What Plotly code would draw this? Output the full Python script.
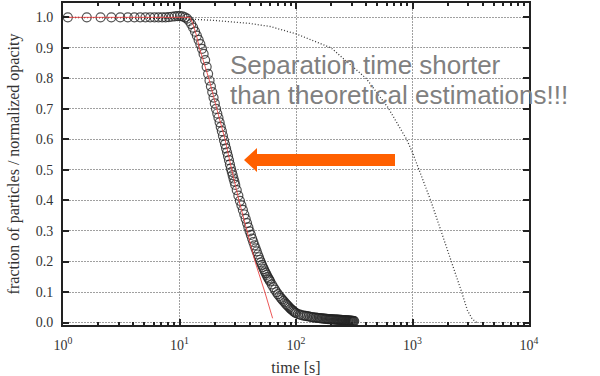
import plotly.graph_objects as go

# ---------------- data ----------------
time_s = [1.1, 1.6, 2.1, 2.6, 3.1, 3.6, 4.1, 4.6, 5.1, 5.6, 6.1, 6.6, 7.1, 7.6, 8.1, 8.6, 9.1, 9.6, 10.1, 10.6,
          11.1, 11.6, 12.1, 12.6, 13.1, 13.6, 14.1, 14.6, 15.1, 15.6, 16.1, 16.6, 17.1, 17.6, 18.1, 18.6, 19.1, 19.6,
          20.1, 20.6, 21.1, 21.6, 22.1, 22.6, 23.1, 23.6, 24.1, 24.6, 25.1, 25.6, 26.1, 26.6, 27.1, 27.6, 28.1, 28.6,
          29.1, 29.6, 30.1,
          31, 32, 33, 34, 35, 36, 37, 38, 39, 40, 41, 42, 43, 44, 45, 46, 47, 48, 49, 50,
          51, 52, 53, 54, 55, 56, 57, 58, 59, 60,
          62, 64, 66, 68, 70, 72, 74, 76, 78, 80, 82, 84, 86, 88, 90, 92, 94, 96, 98, 100,
          104, 108, 112, 116, 120, 124, 128, 132, 136, 140, 144, 148, 152, 156, 160, 164, 168, 172, 176, 180,
          184, 188, 192, 196, 200, 204, 208, 212, 216, 220, 224, 228, 232, 236, 240, 244, 248, 252, 256, 260,
          264, 268, 272, 276, 280, 284, 288, 292, 296, 300, 304, 308, 312, 316]

fraction = [1.0, 1.0, 1.0, 1.0, 1.0, 1.0, 1.0, 1.0, 1.0, 1.0, 1.0, 1.0, 1.0, 1.0, 1.001, 1.002, 1.003, 1.004, 1.004, 1.003,
            1.0, 0.996, 0.988, 0.978, 0.966, 0.953, 0.940, 0.926, 0.912, 0.897, 0.880, 0.860, 0.838, 0.815, 0.793, 0.774,
            0.755, 0.737, 0.718, 0.700, 0.685, 0.671, 0.656, 0.641, 0.627, 0.612, 0.597, 0.584, 0.571, 0.558, 0.545,
            0.532, 0.518, 0.505, 0.494, 0.483, 0.472, 0.462, 0.451,
            0.434, 0.416, 0.399, 0.384, 0.369, 0.354, 0.340, 0.326, 0.312, 0.299, 0.287, 0.275, 0.264, 0.253, 0.243,
            0.233, 0.223, 0.214, 0.205, 0.197,
            0.189, 0.182, 0.175, 0.168, 0.162, 0.156, 0.150, 0.145, 0.140, 0.135,
            0.125, 0.116, 0.108, 0.100, 0.093, 0.087, 0.081, 0.076, 0.071, 0.066, 0.061, 0.057, 0.053, 0.049, 0.045,
            0.042, 0.039, 0.036, 0.033, 0.031,
            0.028, 0.026, 0.024, 0.023, 0.022, 0.021, 0.020, 0.019, 0.018, 0.017, 0.0165, 0.016, 0.0155, 0.015, 0.0145,
            0.014, 0.0135, 0.013, 0.0126, 0.0122,
            0.0118, 0.0115, 0.0112, 0.011, 0.0107, 0.0105, 0.0103, 0.0101, 0.0099, 0.0097, 0.0095, 0.0093, 0.0091,
            0.0089, 0.0087, 0.0085, 0.0083, 0.0081, 0.0079, 0.0077,
            0.0075, 0.0073, 0.0071, 0.0069, 0.0067, 0.0065, 0.0063, 0.0061, 0.0059, 0.0057, 0.0055, 0.0053, 0.0051, 0.0049]

fit_time = [1, 12.3, 13, 14, 14.8, 16, 18, 20.9, 24.6, 28.1, 32.4, 38, 44.5, 54, 63]
fit_fraction = [1.0, 1.0, 0.98, 0.94, 0.9, 0.86, 0.795, 0.7, 0.6, 0.5, 0.4, 0.3, 0.2, 0.1, 0.014]

theory_time = [1, 10, 20, 40, 60, 100, 200, 400, 617, 808, 891, 1000, 1145, 1433, 1757, 2170, 2643, 2954, 3250, 3556]
theory_fraction = [1.0, 0.996, 0.99, 0.98, 0.97, 0.946, 0.9, 0.8, 0.704, 0.63, 0.6, 0.557, 0.5, 0.4, 0.3, 0.2, 0.1,
                   0.041, 0.012, 0.0]

x_tick_vals = [1, 10, 100, 1000, 10000]
x_tick_text = ["10<sup>0</sup>", "10<sup>1</sup>", "10<sup>2</sup>", "10<sup>3</sup>", "10<sup>4</sup>"]
x_minor_vals = [m * d for d in (1, 10, 100, 1000) for m in range(2, 10)]
y_tick_vals = [0.0, 0.1, 0.2, 0.3, 0.4, 0.5, 0.6, 0.7, 0.8, 0.9, 1.0]
y_tick_text = ["0.0", "0.1", "0.2", "0.3", "0.4", "0.5", "0.6", "0.7", "0.8", "0.9", "1.0"]

callout_lines = ["Separation time shorter", "than theoretical estimations!!!"]

# ---------------- figure ----------------
W, H = 600, 376
L, R, T, B = 63, 71, 3, 51
PW, PH = W - L - R, H - T - B


def px(x):
    return (x - L) / PW


def py(y):
    return (H - B - y) / PH


fig = go.Figure()
fig.add_trace(go.Scatter(x=theory_time, y=theory_fraction, mode="lines",
                         line=dict(color="#3a3a3a", width=1.3, dash="1px,2px"), showlegend=False))
fig.add_trace(go.Scatter(x=time_s, y=fraction, mode="markers",
                         marker=dict(symbol="circle-open", size=9, color="rgba(35,35,35,0.78)",
                                     line=dict(width=1.2)), showlegend=False))
fig.add_trace(go.Scatter(x=fit_time, y=fit_fraction, mode="lines",
                         line=dict(color="rgba(235,70,70,0.9)", width=1), showlegend=False))

serif = "Liberation Serif, Times New Roman, serif"
fig.update_layout(
    width=W, height=H, margin=dict(l=L, r=R, t=T, b=B, autoexpand=False),
    paper_bgcolor="white", plot_bgcolor="white",
    font=dict(family=serif, color="#333333", size=14),
    xaxis=dict(type="log", range=[0, 4], tickmode="array", tickvals=x_tick_vals, ticktext=x_tick_text,
               ticks="inside", ticklen=6, tickwidth=1.5, tickcolor="#222",
               minor=dict(tickmode="array", tickvals=x_minor_vals, ticks="inside", ticklen=3,
                          tickcolor="#222", showgrid=False),
               showline=True, linecolor="#222", linewidth=2, mirror="ticks",
               showgrid=True, gridcolor="#a0a0a0", gridwidth=1, griddash="2px,1px",
               tickfont=dict(size=14, family=serif, color="#333"), ticklabelstandoff=6,
               title=dict(text="time [s]", font=dict(size=16, family=serif, color="#333"), standoff=11),
               zeroline=False, automargin=False),
    yaxis=dict(range=[-0.008, 1.047], tickmode="array", tickvals=y_tick_vals, ticktext=y_tick_text,
               ticks="inside", ticklen=6, tickwidth=1.5, tickcolor="#222",
               showline=True, linecolor="#222", linewidth=2, mirror="ticks",
               showgrid=True, gridcolor="#a0a0a0", gridwidth=1, griddash="2px,1px",
               tickfont=dict(size=14, family=serif, color="#333"), ticklabelstandoff=5,
               title=dict(text="fraction of particles / normalized opacity",
                          font=dict(size=16, family=serif, color="#333"), standoff=12),
               zeroline=False, automargin=False),
)

# callout text, one annotation per line
for line_text, top_px in zip(callout_lines, [48, 78]):
    fig.add_annotation(xref="paper", yref="paper", x=px(228), y=py(top_px), xanchor="left", yanchor="top",
                       text=line_text, showarrow=False, align="left",
                       font=dict(family="Liberation Sans, Arial, sans-serif", size=26, color="#808080"))

# orange arrow (shape in paper coordinates)
tail_x, tip_x, head_x = 395, 244, 257
shaft_top, shaft_bot, mid_y = 154, 166, 160
head_top, head_bot = 148, 172
path = (f"M {px(tail_x)},{py(shaft_top)} L {px(head_x)},{py(shaft_top)} L {px(head_x)},{py(head_top)} "
        f"L {px(tip_x)},{py(mid_y)} L {px(head_x)},{py(head_bot)} L {px(head_x)},{py(shaft_bot)} "
        f"L {px(tail_x)},{py(shaft_bot)} Z")
fig.add_shape(type="path", xref="paper", yref="paper", path=path,
              fillcolor="#ff6000", line=dict(width=0), layer="above")

fig.write_html("out.html", config={"displayModeBar": False},
               post_script=["document.body.style.margin='0px';"])
